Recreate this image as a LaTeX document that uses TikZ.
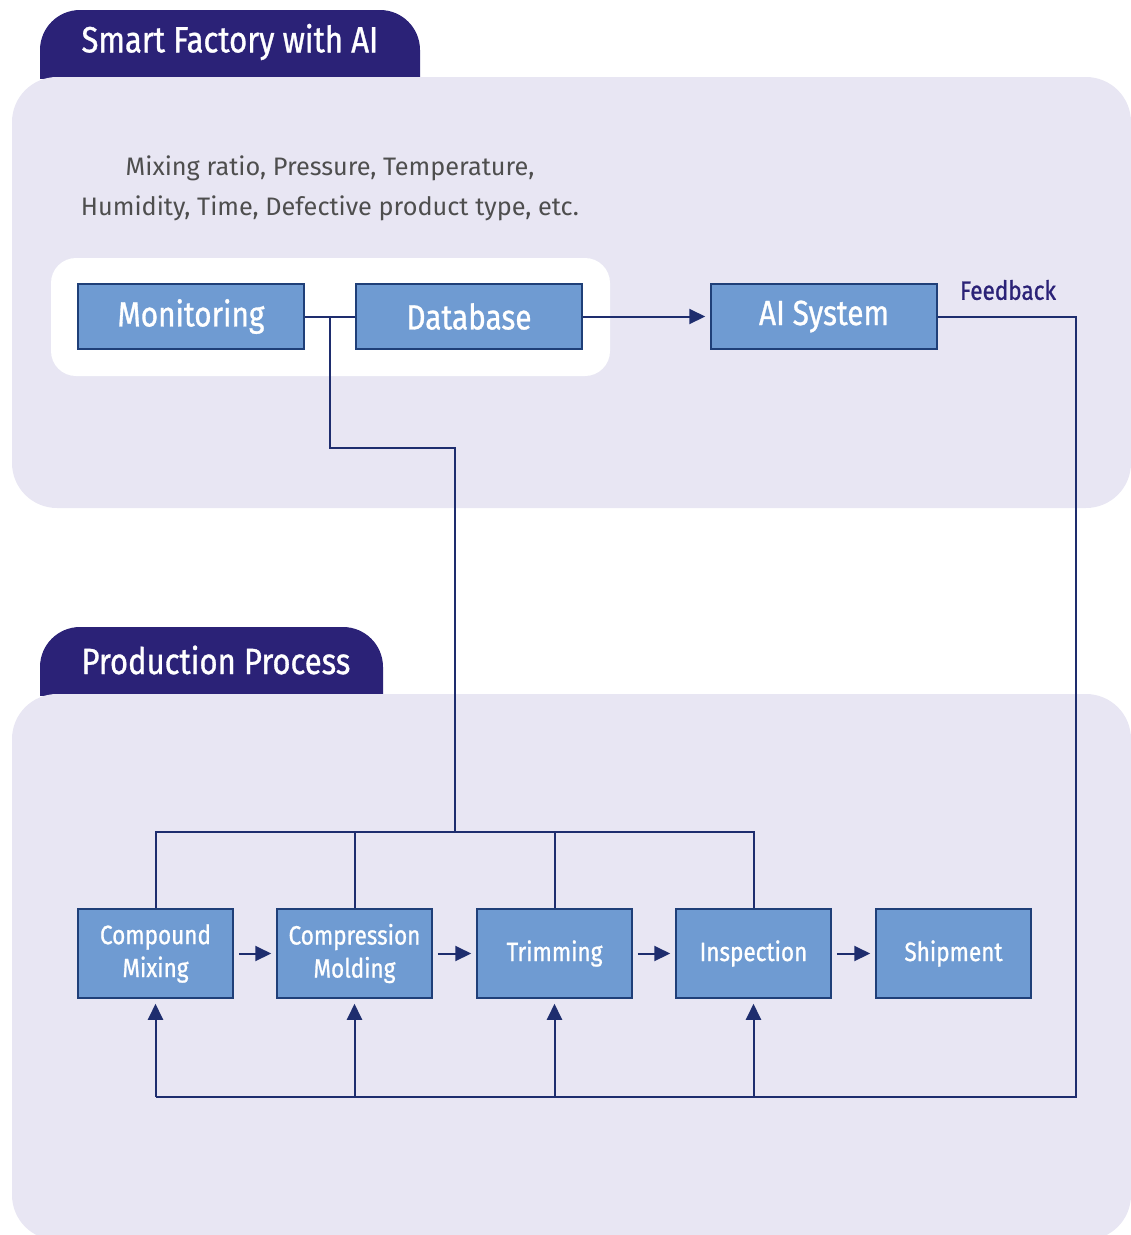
\documentclass[tikz,border=0pt]{standalone}
\usepackage{fontspec}
\setmainfont[FakeStretch=0.85,FakeBold=0.9]{Fira Sans}
\newfontfamily\notefont{Fira Sans}
\usetikzlibrary{arrows.meta}
\definecolor{navy}{RGB}{43,34,119}
\definecolor{panelbg}{RGB}{232,230,243}
\definecolor{boxfill}{RGB}{111,155,210}
\definecolor{boxline}{RGB}{31,63,120}
\definecolor{linecol}{RGB}{30,45,110}
\definecolor{notecol}{RGB}{78,78,78}
\begin{document}
\begin{tikzpicture}[x=1pt,y=-1pt,
	box/.style={rectangle,draw=boxline,line width=1.5pt,fill=boxfill,text=white,minimum width=226pt,minimum height=65pt,font=\fontsize{35}{42}\selectfont},
	pbox/.style={box,minimum width=155pt,minimum height=89pt,align=center,font=\fontsize{26.5}{33}\selectfont},
	panel/.style={fill=panelbg,rounded corners=45pt},
	tab/.style={fill=navy,rounded corners=40pt},
	head/.style={anchor=west,text=white,font=\fontsize{36.5}{44}\selectfont},
	wire/.style={draw=linecol,line width=2pt},
	arr/.style={wire,-{Triangle[length=16pt,width=15pt]},shorten >=5pt}]
	\useasboundingbox (0,0) rectangle (1131,1235);
	\begin{scope}
		\clip (0,0) rectangle (1131,78);
		\fill[tab] (40,10) rectangle (420,150);
	\end{scope}
	\begin{scope}
		\clip (0,600) rectangle (1131,695);
		\fill[tab] (40,627) rectangle (383,760);
	\end{scope}
	\fill[panel] (12,77) rectangle (1131,508);
	\fill[panel] (12,694) rectangle (1131,1240);
	\fill[white,rounded corners=25pt] (51,258) rectangle (610,376);
	\node[head] (t1) at (78,42) {Smart Factory with AI};
	\node[head] (t2) at (78,660) {Production Process};
	\node[align=center,text=notecol,font=\notefont\fontsize{25.3}{40}\selectfont] (note) at (330,188) {Mixing ratio, Pressure, Temperature,\\Humidity, Time, Defective product type, etc.};

	\node[box] (mon) at (191,316.5) {Monitoring};
	\node[box] (db) at (469,316.5) {Database};
	\node[box] (ai) at (824,316.5) {AI System};
	\node[text=navy,font=\fontsize{26.5}{32}\selectfont] (fbl) at (1008,290) {Feedback};

	\node[pbox] (c1) at (155.5,953.5) {Compound\\Mixing};
	\node[pbox] (c2) at (354.5,953.5) {Compression\\Molding};
	\node[pbox] (c3) at (554.5,953.5) {Trimming};
	\node[pbox] (c4) at (753.5,953.5) {Inspection};
	\node[pbox] (c5) at (953.5,953.5) {Shipment};

	\coordinate (j1) at (330,316.5);
	\coordinate (j2) at (455,832);
	\coordinate (fb) at (1076,1097);

	\draw[wire] (mon) -- (db);
	\draw[arr] (db) -- (ai);
	\draw[wire] (j1) -- ++(0,131.5) -| (j2);
	\draw[wire] (c1.north) |- (j2) -| (c4.north);
	\draw[wire] (c2.north) -- (c2.north |- j2);
	\draw[wire] (c3.north) -- (c3.north |- j2);

	\draw[arr,shorten <=5pt] (c1) -- (c2);
	\draw[arr,shorten <=5pt] (c2) -- (c3);
	\draw[arr,shorten <=5pt] (c3) -- (c4);
	\draw[arr,shorten <=5pt] (c4) -- (c5);

	\draw[wire] (ai.east) -| (fb) -- (fb -| c1);
	\draw[arr] (fb -| c1) -- (c1.south);
	\draw[arr] (fb -| c2) -- (c2.south);
	\draw[arr] (fb -| c3) -- (c3.south);
	\draw[arr] (fb -| c4) -- (c4.south);
\end{tikzpicture}
\end{document}
